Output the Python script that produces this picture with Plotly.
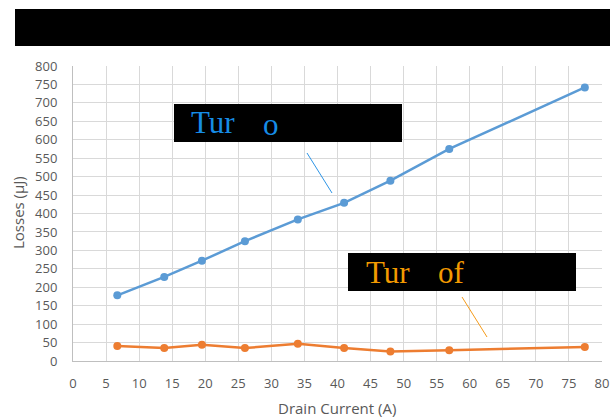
import plotly.graph_objects as go

# Measured switching losses versus drain current
drain_current = [6.7, 13.8, 19.5, 26.0, 34.0, 41.0, 48.0, 56.9, 77.4]
turn_on_losses = [178, 228, 272, 325, 384, 429, 489, 575, 742]
turn_off_losses = [41, 35, 44, 35, 47, 35, 26, 29, 38]

x_ticks = list(range(0, 85, 5))
y_ticks = list(range(0, 850, 50))

W, H = 610, 417
ML, MR, MT, MB = 73, 8, 66, 56
PW, PH = W - ML - MR, H - MT - MB


def px(x):
    return (x - ML) / PW


def py(y):
    return (H - MB - y) / PH


BLUE = "#5B9BD5"
ORANGE = "#ED7D31"
GRID = "#D9D9D9"
TEXT = "#595959"
FONT = "Open Sans"

fig = go.Figure()
fig.add_trace(go.Scatter(
    x=drain_current, y=turn_on_losses, mode="lines+markers",
    line=dict(color=BLUE, width=2.5), marker=dict(color=BLUE, size=8),
    name="Turn on", showlegend=False, cliponaxis=False))
fig.add_trace(go.Scatter(
    x=drain_current, y=turn_off_losses, mode="lines+markers",
    line=dict(color=ORANGE, width=2.5), marker=dict(color=ORANGE, size=8),
    name="Turn off", showlegend=False, cliponaxis=False))

shapes = [
    # title block
    dict(type="rect", xref="paper", yref="paper", x0=px(15), x1=px(610),
         y0=py(46), y1=py(9), fillcolor="black", line=dict(width=0), layer="above"),
    # label blocks
    dict(type="rect", xref="paper", yref="paper", x0=px(174), x1=px(402),
         y0=py(142), y1=py(104), fillcolor="black", line=dict(width=0), layer="above"),
    dict(type="rect", xref="paper", yref="paper", x0=px(348), x1=px(576),
         y0=py(291), y1=py(253), fillcolor="black", line=dict(width=0), layer="above"),
    # leader lines
    dict(type="line", xref="paper", yref="paper", x0=px(307), y0=py(153),
         x1=px(332), y1=py(193), line=dict(color="#2E95E6", width=1), layer="above"),
    dict(type="line", xref="paper", yref="paper", x0=px(462), y0=py(297),
         x1=px(487), y1=py(337), line=dict(color="#F59B1A", width=1), layer="above"),
]

label_font_on = dict(family="Liberation Serif", size=31, color="#168CE6")
label_font_off = dict(family="Liberation Serif", size=31, color="#F39A00")
axis_title_font = dict(family=FONT, size=15, color=TEXT)
annotations = [
    dict(text="Tur", xref="paper", yref="paper", x=px(189), y=py(123),
         xanchor="left", yanchor="middle", showarrow=False, font=label_font_on),
    dict(text="o", xref="paper", yref="paper", x=px(261), y=py(125),
         xanchor="left", yanchor="middle", showarrow=False, font=label_font_on),
    dict(text="Tur", xref="paper", yref="paper", x=px(364), y=py(272),
         xanchor="left", yanchor="middle", showarrow=False, font=label_font_off),
    dict(text="of", xref="paper", yref="paper", x=px(436), y=py(272),
         xanchor="left", yanchor="middle", showarrow=False, font=label_font_off),
    # axis titles
    dict(text="Drain Current (A)", xref="paper", yref="paper", x=px(337), y=py(408),
         xanchor="center", yanchor="middle", showarrow=False, font=axis_title_font),
    dict(text="Losses (µJ)", xref="paper", yref="paper", x=px(18), y=py(213),
         xanchor="center", yanchor="middle", showarrow=False, textangle=-90,
         font=axis_title_font),
]

fig.update_layout(
    width=W, height=H,
    margin=dict(l=ML, r=MR, t=MT, b=MB, autoexpand=False),
    paper_bgcolor="white", plot_bgcolor="white",
    font=dict(family=FONT, size=13, color=TEXT),
    shapes=shapes, annotations=annotations,
)
fig.update_xaxes(
    range=[0, 80], tickvals=x_ticks, ticktext=[str(v) for v in x_ticks],
    showgrid=True, gridcolor=GRID, gridwidth=1,
    showline=True, linecolor="#BFBFBF", linewidth=1,
    zeroline=False, ticks="", ticklabelstandoff=10, automargin=False,
    tickfont=dict(size=13, color=TEXT),
)
fig.update_yaxes(
    range=[0, 800], tickvals=y_ticks, ticktext=[str(v) for v in y_ticks],
    showgrid=True, gridcolor=GRID, gridwidth=1,
    showline=True, linecolor="#BFBFBF", linewidth=1,
    zeroline=False, ticks="", ticklabelstandoff=12, automargin=False,
    tickfont=dict(size=13, color=TEXT),
)

fig.write_html("out.html")
